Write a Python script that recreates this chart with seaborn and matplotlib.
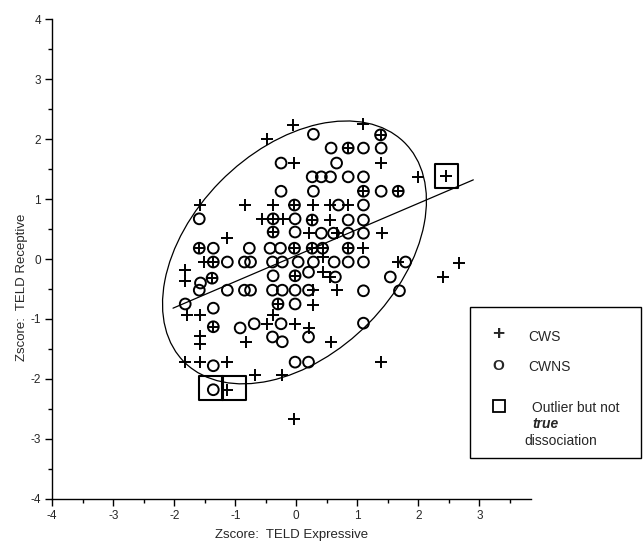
import matplotlib
matplotlib.use("Agg")
import matplotlib.pyplot as plt
from matplotlib.patches import Ellipse, Rectangle
from matplotlib.ticker import FixedLocator
import seaborn as sns

# CWS children (plus markers), z-scores
cws_x = [-0.05, -0.48, 1.10, 1.38, 0.85,
         -0.03, 1.39, 2.00, 2.46,
         1.10, 1.67,
         -1.57, -0.84, -0.38, -0.03, 0.28, 0.56, 0.85,
         -0.56, -0.38, -0.21, 0.26, 0.56,
         -0.38, 0.21, 0.66, 1.41,
         -1.13,
         -1.59, -0.03, 0.26, 0.43, 0.85, 1.10,
         -1.52, -1.36, 0.43, 1.66,
         -1.82, -1.82, -1.38, 0.43, 0.56, -0.02,
         0.28, 0.66,
         0.28, -0.30,
         -1.79, -1.57, -0.38,
         -1.36, -0.48, -0.02, 0.20,
         -1.57, -1.57, -0.82, 0.57,
         -1.82, -1.57, -1.13, 1.39,
         -0.67, -0.23,
         -1.13, -0.03,
         2.41, 2.66]
cws_y = [2.23, 2.00, 2.25, 2.07, 1.85,
         1.60, 1.60, 1.37, 1.38,
         1.13, 1.13,
         0.90, 0.90, 0.90, 0.90, 0.90, 0.90, 0.90,
         0.67, 0.67, 0.67, 0.65, 0.65,
         0.45, 0.43, 0.43, 0.43,
         0.35,
         0.18, 0.18, 0.18, 0.18, 0.18, 0.18,
         -0.05, -0.05, 0.03, -0.05,
         -0.18, -0.37, -0.32, -0.22, -0.30, -0.28,
         -0.52, -0.52,
         -0.77, -0.75,
         -0.93, -0.93, -0.93,
         -1.13, -1.08, -1.08, -1.15,
         -1.28, -1.42, -1.38, -1.38,
         -1.72, -1.72, -1.72, -1.72,
         -1.93, -1.93,
         -2.18, -2.67,
         -0.30, -0.07]

# CWNS children (open circles)
cwns_x = [-0.25, -0.25, 0.28, 1.38,
          0.57, 0.85, 1.10, 1.39,
          0.66,
          0.26, 0.41, 0.56, 0.85, 1.10,
          0.28, 1.10, 1.39, 1.67,
          -0.03, 0.69, 1.10,
          -1.59, -0.38, -0.02, 0.26, 0.85, 1.10,
          -0.38, -0.02, 0.41, 0.61, 0.85, 1.10,
          -1.59, -1.36, -0.77, -0.43, -0.26, -0.03, 0.26, 0.43, 0.85,
          -1.36, -1.13, -0.85, -0.75, -0.39, -0.23, 0.03, 0.28, 0.62, 0.85, 1.10, 1.79,
          0.20, -0.38, -0.02, -1.38, -1.57, 0.64, 1.54,
          -1.59, -1.13, -0.85, -0.75, -0.39, -0.23, -0.02, 0.20, 1.10, 1.69,
          -1.82, -1.36, -0.30, -0.02,
          -1.36, -0.92, -0.69, -0.25, 0.20, 1.10,
          -0.39, -0.23,
          -1.36, -0.02, 0.20,
          -1.36]
cwns_y = [1.60, 1.13, 2.08, 2.07,
          1.85, 1.85, 1.85, 1.85,
          1.60,
          1.37, 1.37, 1.37, 1.37, 1.37,
          1.13, 1.13, 1.13, 1.13,
          0.90, 0.90, 0.90,
          0.67, 0.67, 0.67, 0.65, 0.65, 0.65,
          0.45, 0.45, 0.43, 0.43, 0.43, 0.43,
          0.18, 0.18, 0.18, 0.18, 0.18, 0.18, 0.18, 0.18, 0.18,
          -0.05, -0.05, -0.05, -0.05, -0.05, -0.05, -0.05, -0.05, -0.05, -0.05, -0.05, -0.05,
          -0.22, -0.28, -0.28, -0.32, -0.40, -0.30, -0.30,
          -0.52, -0.52, -0.52, -0.52, -0.52, -0.52, -0.52, -0.52, -0.53, -0.53,
          -0.75, -0.82, -0.75, -0.75,
          -1.13, -1.15, -1.08, -1.08, -1.30, -1.07,
          -1.30, -1.38,
          -1.78, -1.72, -1.72,
          -2.18]

# boxed outliers
box_x = [-1.40, -1.02, 2.46]
box_y = [-2.15, -2.15, 1.38]

# regression line and ellipse
fit_x = [-2.02, 2.90]
fit_y = [-0.82, 1.32]
ell_center = (-0.03, 0.11)
ell_width = 5.14
ell_height = 3.39
ell_angle = 46

x_ticks = [-4, -3, -2, -1, 0, 1, 2, 3]
y_ticks = [-4, -3, -2, -1, 0, 1, 2, 3, 4]

sns.set_style("ticks")
plt.rcParams['font.family'] = ['Liberation Sans', 'DejaVu Sans']

fig = plt.figure(figsize=(6.44, 5.47), dpi=100)
ax = fig.add_axes([0.081, 0.088, 0.744, 0.877])

sns.scatterplot(x=cws_x, y=cws_y, marker='+', s=80, color='black', linewidth=1.4, ax=ax)
sns.scatterplot(x=cwns_x, y=cwns_y, marker='o', s=60, facecolors='none',
                edgecolors='black', linewidth=1.4, ax=ax)
sns.scatterplot(x=box_x, y=box_y, marker='s', s=290, facecolors='none',
                edgecolors='black', linewidth=1.5, ax=ax)
sns.lineplot(x=fit_x, y=fit_y, color='black', linewidth=0.9, ax=ax)
ax.add_patch(Ellipse(ell_center, ell_width, ell_height, angle=ell_angle,
                     fill=False, edgecolor='black', linewidth=0.9))

ax.set_xlim(-4, 3.85)
ax.set_ylim(-4, 4)
ax.xaxis.set_major_locator(FixedLocator(x_ticks))
ax.xaxis.set_minor_locator(FixedLocator([t + 0.5 for t in x_ticks]))
ax.yaxis.set_major_locator(FixedLocator(y_ticks))
ax.yaxis.set_minor_locator(FixedLocator([t + 0.5 for t in y_ticks[:-1]]))
ax.set_xticklabels([str(t) for t in x_ticks], fontsize=8.5)
ax.set_yticklabels([str(t) for t in y_ticks], fontsize=8.5)
ax.tick_params(which='major', direction='out', length=5, width=1, color='black', pad=3)
ax.tick_params(which='minor', direction='out', length=3, width=1, color='black')
sns.despine(ax=ax)
for side in ['left', 'bottom']:
    ax.spines[side].set_linewidth(1)
    ax.spines[side].set_color('black')

ax.set_xlabel('Zscore:  TELD Expressive', fontsize=9.5, labelpad=5)
ax.set_ylabel('Zscore:  TELD Receptive', fontsize=9.5)
ax.yaxis.set_label_coords(-0.05, 0.44)

# hand-made legend box
fig.add_artist(Rectangle((470 / 644, 1 - 458 / 547), 171 / 644, 151 / 547,
                         transform=fig.transFigure, fill=False,
                         edgecolor='black', linewidth=1))
fig.text(498 / 644, 1 - 334 / 547, '+', fontsize=15, fontweight='bold', ha='center', va='center')
fig.text(528 / 644, 1 - 337 / 547, 'CWS', fontsize=10, ha='left', va='center')
fig.text(498 / 644, 1 - 366 / 547, 'O', fontsize=11, fontweight='bold', ha='center', va='center')
fig.text(528 / 644, 1 - 367 / 547, 'CWNS', fontsize=10, ha='left', va='center')
fig.add_artist(Rectangle((493 / 644, 1 - 412 / 547), 12 / 644, 12 / 547,
                         transform=fig.transFigure, fill=False,
                         edgecolor='black', linewidth=1.3))
fig.text(532 / 644, 1 - 408 / 547, 'Outlier but not', fontsize=10, ha='left', va='center')
fig.text(532 / 644, 1 - 424 / 547, 'true', fontsize=10, fontweight='bold',
         style='italic', ha='left', va='center')
fig.text(524 / 644, 1 - 441 / 547, 'dissociation', fontsize=10, ha='left', va='center')

plt.savefig('out.png', dpi=100)
